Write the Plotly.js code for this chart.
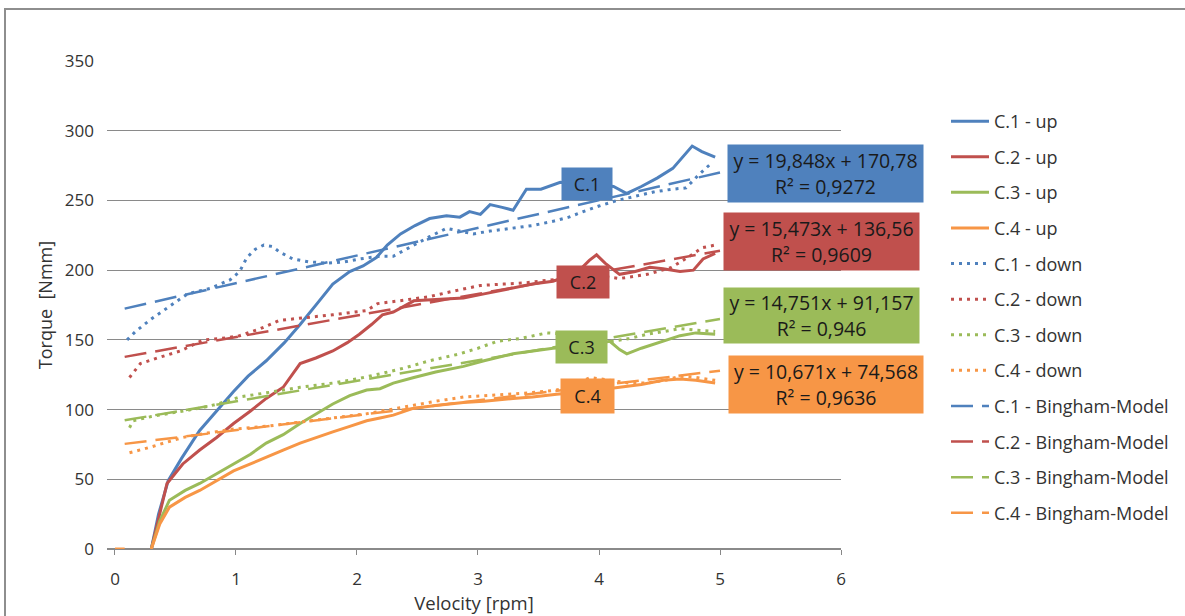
<!DOCTYPE html>
<html>
<head>
<meta charset="utf-8">
<script src="https://cdn.plot.ly/plotly-3.0.1.min.js"></script>
<style>
html,body{margin:0;padding:0;background:#fff;overflow:hidden;}
#chart{width:1185px;height:616px;}
#frame{position:absolute;left:4px;top:8px;width:1220px;height:700px;border:2px solid #8e8e8e;pointer-events:none;}
</style>
</head>
<body>
<div id="chart"></div>
<div id="frame"></div>
<script>
// ---- data ----
const c1UpX = [0.3,0.36,0.44,0.55,0.70,0.85,0.98,1.10,1.25,1.40,1.53,1.67,1.80,1.94,2.05,2.16,2.25,2.36,2.48,2.60,2.74,2.85,2.93,3.02,3.10,3.20,3.29,3.40,3.52,3.68,3.80,3.92,4.02,4.12,4.23,4.35,4.48,4.61,4.70,4.77,4.85,4.96];
const c1UpY = [0,25,49,65,85,100,113,124,135,148,161,176,190,199,203,209,218,226,232,237,239,238,242,240,247,245,243,258,258,263,262,264,261,260,255,260,266,273,282,289,285,281];

const c2UpX = [0.3,0.36,0.43,0.56,0.70,0.84,0.98,1.12,1.25,1.39,1.53,1.66,1.80,1.92,2.02,2.12,2.21,2.30,2.47,2.65,2.88,3.05,3.29,3.45,3.62,3.75,3.85,3.92,3.98,4.05,4.17,4.30,4.42,4.53,4.67,4.78,4.86,4.96];
const c2UpY = [0,22,47,61,71,80,90,99,108,116,133,137,142,148,154,161,168,170,178,179,180,183,187,190,192,196,201,207,211,205,197,199,202,201,199,200,208,212];

const c3UpX = [0.3,0.37,0.45,0.58,0.70,0.84,0.98,1.12,1.25,1.39,1.53,1.66,1.80,1.94,2.08,2.19,2.30,2.47,2.65,2.88,3.05,3.29,3.45,3.62,3.80,3.95,4.09,4.17,4.23,4.35,4.53,4.67,4.80,4.96];
const c3UpY = [0,20,35,42,47,54,61,68,76,82,90,97,104,110,114,115,119,123,127,131,135,140,142,144,145,147,149,143,140,144,149,153,155,154];

const c4UpX = [0,0.08,0.2,0.3,0.37,0.45,0.58,0.70,0.84,0.98,1.12,1.25,1.39,1.53,1.66,1.80,1.94,2.08,2.19,2.30,2.47,2.65,2.88,3.05,3.29,3.45,3.65,3.90,4.17,4.35,4.53,4.67,4.80,4.96];
const c4UpY = [0,0,null,0,18,30,37,42,49,56,61,66,71,76,80,84,88,92,94,96,101,103,105,106,108,109,111,113,116,118,121,122,121,119];

const c1DownX = [0.1,0.17,0.30,0.43,0.60,0.79,0.95,1.03,1.09,1.16,1.23,1.30,1.36,1.47,1.60,1.75,1.90,2.02,2.19,2.30,2.47,2.60,2.74,2.85,2.96,3.10,3.29,3.45,3.62,3.75,3.87,4.00,4.15,4.30,4.45,4.60,4.72,4.82,4.92];
const c1DownY = [150,156,165,173,183,187,193,199,209,215,218,217,213,208,206,205,206,208,210,210,218,224,230,228,226,228,230,232,235,238,242,246,250,253,256,258,259,268,276];

const c2DownX = [0.12,0.21,0.35,0.54,0.73,0.88,1.03,1.20,1.36,1.59,1.80,2.08,2.17,2.35,2.60,2.80,3.02,3.21,3.40,3.60,3.80,4.00,4.17,4.40,4.60,4.75,4.85,4.96];
const c2DownY = [123,133,137,142,150,151,153,158,164,166,168,171,176,178,181,185,189,190,191,193,194,196,194,197,202,210,216,218];

const c3DownX = [0.12,0.15,0.30,0.43,0.70,0.85,1.03,1.25,1.53,1.80,2.00,2.21,2.40,2.60,2.85,3.00,3.16,3.35,3.57,3.75,3.95,4.12,4.25,4.40,4.55,4.67,4.80,4.96];
const c3DownY = [87,92,95,97,101,104,109,112,116,119,122,126,130,135,140,144,149,151,155,154,151,149,151,154,156,158,157,156];

const c4DownX = [0.12,0.29,0.56,0.75,0.98,1.25,1.53,1.80,2.08,2.40,2.65,2.88,3.10,3.43,3.65,3.80,3.93,4.10,4.25,4.40,4.55,4.67,4.80,4.96];
const c4DownY = [69,73,80,83,86,88,91,94,97,102,106,109,110,112,114,118,123,121,119,119,121,124,123,121];

const modelX  = [0.08, 5];
const c1ModelY = [172.4, 270.0];
const c2ModelY = [137.8, 213.9];
const c3ModelY = [92.3, 164.9];
const c4ModelY = [75.4, 127.9];

const seriesNames = ['C.1','C.2','C.3','C.4'];
const equations = ['y = 19,848x + 170,78<br>R² = 0,9272','y = 15,473x + 136,56<br>R² = 0,9609','y = 14,751x + 91,157<br>R² = 0,946','y = 10,671x + 74,568<br>R² = 0,9636'];
const xTicks = [0,1,2,3,4,5,6];
const yTicks = [0,50,100,150,200,250,300,350];

// ---- styling ----
const colors = ['#4F81BD','#C0504D','#9BBB59','#F79646'];
const upX = [c1UpX,c2UpX,c3UpX,c4UpX], upY = [c1UpY,c2UpY,c3UpY,c4UpY];
const downX = [c1DownX,c2DownX,c3DownX,c4DownX], downY = [c1DownY,c2DownY,c3DownY,c4DownY];
const modelY = [c1ModelY,c2ModelY,c3ModelY,c4ModelY];

const traces = [];
for (let i=0;i<4;i++) traces.push({x:upX[i],y:upY[i],type:'scatter',mode:'lines',name:seriesNames[i]+' - up',line:{color:colors[i],width:3},connectgaps:false,legendgroup:'u'+i});
for (let i=0;i<4;i++) traces.push({x:downX[i],y:downY[i],type:'scatter',mode:'lines',name:seriesNames[i]+' - down',line:{color:colors[i],width:3,dash:'3px,5px'},legendgroup:'d'+i});
for (let i=0;i<4;i++) traces.push({x:modelX,y:modelY[i],type:'scatter',mode:'lines',name:seriesNames[i]+' - Bingham-Model',line:{color:colors[i],width:2.5,dash:'22px,9px'},legendgroup:'m'+i});

const font = 'Open Sans, sans-serif';
const labelPos = [[3.90,261.8,50,32],[3.87,191.5,52,32],[3.855,144.9,51,32],[3.905,109.8,53,34]];
const eqPos = [[5.87,269.4,195,57],[5.84,220.6,195,57],[5.84,167.5,195,55],[5.88,118.0,194,57]];
const annotations = [];
for (let i=0;i<4;i++){
  annotations.push({x:labelPos[i][0],y:labelPos[i][1],xref:'x',yref:'y',text:seriesNames[i],showarrow:false,
    bgcolor:colors[i],width:labelPos[i][2],height:labelPos[i][3],borderpad:0,font:{family:font,size:18,color:'#1a1a1a'}});
  annotations.push({x:eqPos[i][0],y:eqPos[i][1],xref:'x',yref:'y',text:equations[i],showarrow:false,
    bgcolor:colors[i],width:eqPos[i][2],height:eqPos[i][3],borderpad:0,font:{family:font,size:19.5,color:'#1a1a1a'}});
}

const layout = {
  width:1185,height:616,autosize:false,
  margin:{l:107,r:343,t:61,b:67},
  paper_bgcolor:'#fff',plot_bgcolor:'#fff',
  font:{family:font,size:17,color:'#333'},
  showlegend:true,
  legend:{x:1.1415,y:0.914,xanchor:'left',yanchor:'top',traceorder:'grouped',tracegroupgap:9.2,itemwidth:38,font:{family:font,size:18,color:'#333'},bgcolor:'rgba(0,0,0,0)'},
  xaxis:{range:[-0.066,6],tickvals:xTicks,ticktext:xTicks.map(String),showgrid:false,zeroline:false,
    showline:false,ticks:'outside',ticklen:5,tickcolor:'#888',ticklabelstandoff:10,
    title:{text:'Velocity [rpm]',font:{family:font,size:18.5,color:'#333'},standoff:2},automargin:false},
  yaxis:{range:[0,350],tickvals:yTicks,ticktext:yTicks.map(String),showgrid:true,gridcolor:'#8a8a8a',gridwidth:1,
    zeroline:true,zerolinecolor:'#8a8a8a',zerolinewidth:1.5,showline:false,ticks:'',ticklabelstandoff:12,
    title:{text:'Torque  [Nmm]',font:{family:font,size:18,color:'#333'},standoff:7},automargin:false},
  annotations:annotations
};

Plotly.newPlot('chart',traces,layout,{displayModeBar:false,staticPlot:true});
</script>
</body>
</html>
